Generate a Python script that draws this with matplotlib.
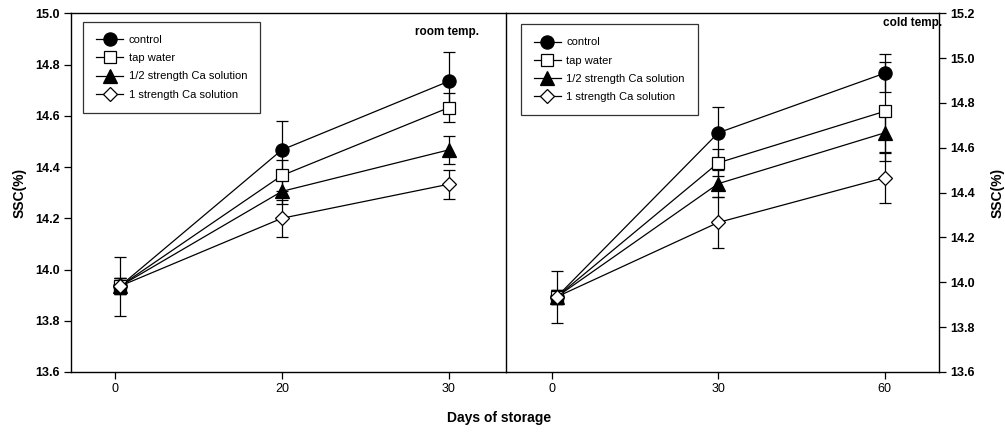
import matplotlib
matplotlib.use("Agg")
import matplotlib.pyplot as plt
from matplotlib.lines import Line2D

plt.rcParams['font.family'] = ['Liberation Sans', 'DejaVu Sans']

treatments = ["control", "tap water", "1/2 strength Ca solution", "1 strength Ca solution"]
room_days = ["0", "20", "30"]
cold_days = ["0", "30", "60"]

# room temperature SSC (%) and standard errors
room_control = [13.935, 14.467, 14.735]
room_tap = [13.935, 14.367, 14.632]
room_half = [13.935, 14.305, 14.467]
room_full = [13.935, 14.200, 14.333]
room_control_err = [0.115, 0.113, 0.113]
room_tap_err = [0.03, 0.06, 0.058]
room_half_err = [0.03, 0.05, 0.056]
room_full_err = [0.03, 0.072, 0.057]

# cold temperature SSC (%) and standard errors
cold_control = [13.935, 14.667, 14.933]
cold_tap = [13.935, 14.533, 14.763]
cold_half = [13.935, 14.440, 14.667]
cold_full = [13.935, 14.267, 14.467]
cold_control_err = [0.115, 0.115, 0.085]
cold_tap_err = [0.03, 0.06, 0.22]
cold_half_err = [0.03, 0.06, 0.09]
cold_full_err = [0.03, 0.113, 0.115]

room_series = [room_control, room_tap, room_half, room_full]
room_errs = [room_control_err, room_tap_err, room_half_err, room_full_err]
cold_series = [cold_control, cold_tap, cold_half, cold_full]
cold_errs = [cold_control_err, cold_tap_err, cold_half_err, cold_full_err]

# plotting positions of the three sampling days (categorical axis)
xpos = [0.03, 1, 2]

styles = [
    dict(marker='o', mfc='black', ms=9.5),
    dict(marker='s', mfc='white', ms=8.5),
    dict(marker='^', mfc='black', ms=9.5),
    dict(marker='D', mfc='white', ms=7.5),
]

fig = plt.figure(figsize=(10.05, 4.32), dpi=100)
axL = fig.add_axes([0.0706, 0.1389, 0.4326, 0.8303])
axR = fig.add_axes([0.5032, 0.1389, 0.4311, 0.8303])
axR.patch.set_alpha(0)

def draw(ax, series, errs):
    handles = []
    for vals, err, st, lab in zip(series, errs, styles, treatments):
        ax.errorbar(xpos, vals, yerr=err, color='black', lw=0.9, mec='black',
                    mew=0.9, ecolor='black', elinewidth=0.9, capsize=4,
                    capthick=0.9, **st)
        handles.append(Line2D([], [], color='black', lw=0.9, mec='black',
                              mew=0.9, label=lab, **st))
    return handles

hL = draw(axL, room_series, room_errs)
hR = draw(axR, cold_series, cold_errs)

axL.set_xlim(-0.263, 2.34)
axL.set_ylim(13.6, 15.0)
axL.set_xticks(range(3))
axL.set_xticklabels(room_days)
axL.set_yticks([13.6, 13.8, 14.0, 14.2, 14.4, 14.6, 14.8, 15.0])
axL.set_yticklabels(['13.6', '13.8', '14.0', '14.2', '14.4', '14.6', '14.8', '15.0'],
                    fontweight='bold')
axL.set_ylabel('SSC(%)', fontsize=10, fontweight='bold', labelpad=6)

axR.set_xlim(-0.276, 2.325)
axR.set_ylim(13.6, 15.2)
axR.set_xticks(range(3))
axR.set_xticklabels(cold_days)
axR.yaxis.tick_right()
axR.yaxis.set_label_position('right')
axR.set_yticks([13.6, 13.8, 14.0, 14.2, 14.4, 14.6, 14.8, 15.0, 15.2])
axR.set_yticklabels(['13.6', '13.8', '14.0', '14.2', '14.4', '14.6', '14.8', '15.0', '15.2'],
                    fontweight='bold')
axR.spines['left'].set_visible(False)
axR.set_ylabel('SSC(%)', fontsize=10, fontweight='bold', labelpad=11)

for ax in (axL, axR):
    for sp in ax.spines.values():
        sp.set_linewidth(1.0)
    ax.tick_params(direction='out', length=5, width=0.9, labelsize=9, pad=3)

axL.text(0.864, 0.947, 'room temp.', transform=axL.transAxes, ha='center',
         va='center', fontsize=8.5, fontweight='bold')
axR.text(0.94, 0.972, 'cold temp.', transform=axR.transAxes, ha='center',
         va='center', fontsize=8.5, fontweight='bold')

fig.text(0.497, 0.033, 'Days of storage', ha='center', va='center',
         fontsize=10, fontweight='bold')

leg_kw = dict(loc='upper left', borderaxespad=0, fontsize=8, frameon=True,
              fancybox=False, edgecolor='black', handlelength=2.4,
              handletextpad=0.5, labelspacing=0.74, borderpad=1.2)
lg1 = axL.legend(handles=hL, bbox_to_anchor=(0.0276, 0.9766), **leg_kw)
lg2 = axR.legend(handles=hR, bbox_to_anchor=(0.0346, 0.970), **leg_kw)
for lg in (lg1, lg2):
    lg.get_frame().set_linewidth(0.9)

fig.savefig('out.png', dpi=100)
